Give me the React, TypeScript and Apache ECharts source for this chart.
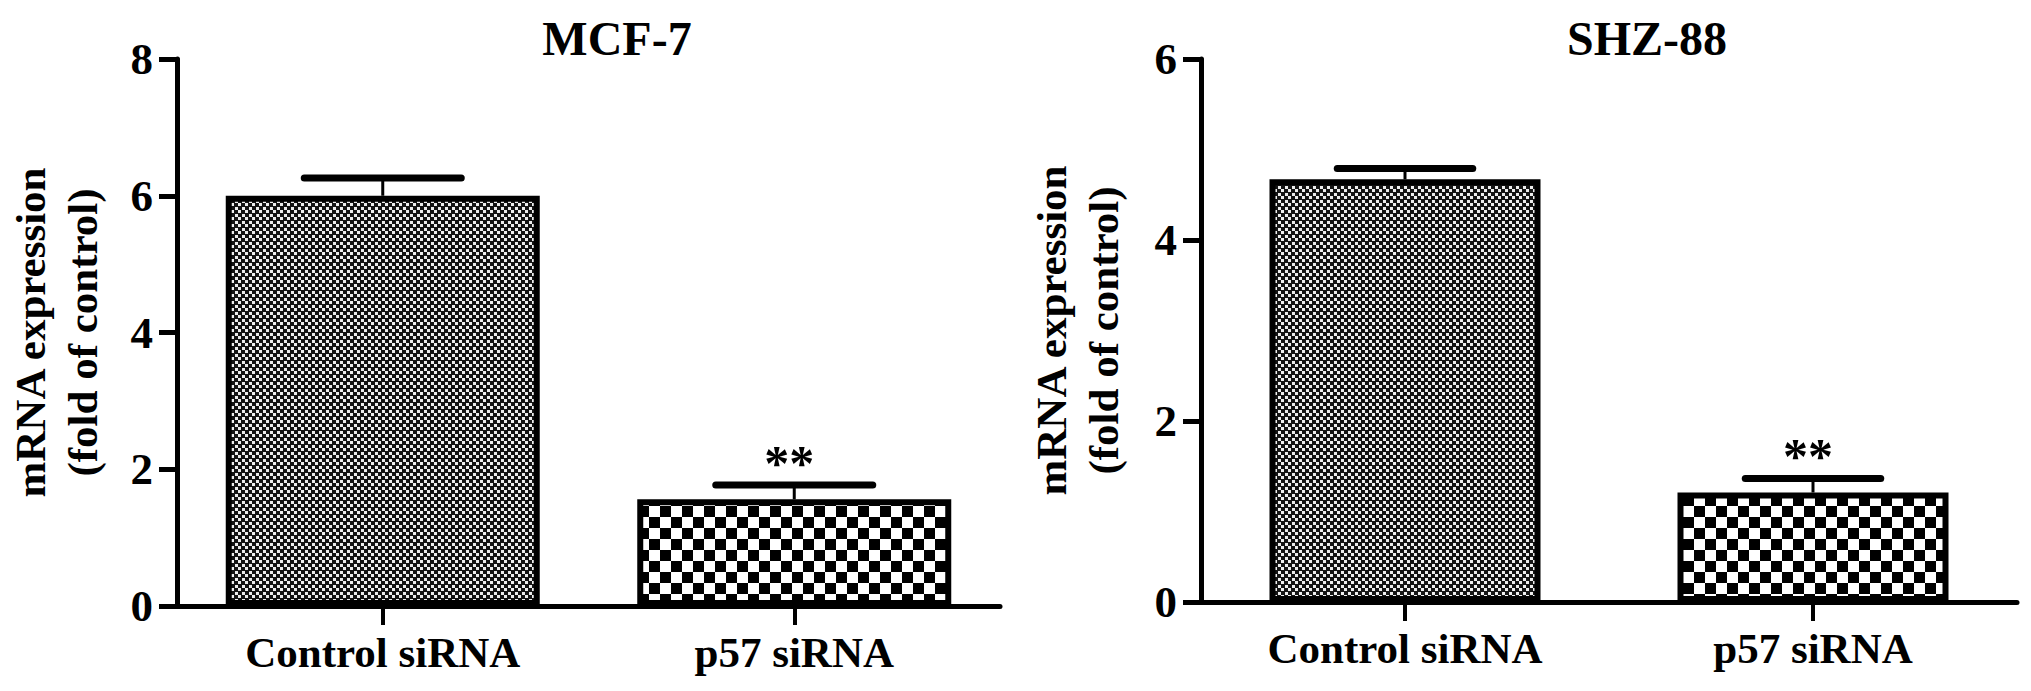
import React, { useEffect, useRef } from 'react';
import * as echarts from 'echarts';

// ---- data ----
const categories = ['Control siRNA', 'p57 siRNA'];
const panelTitles = ['MCF-7', 'SHZ-88'];
const mcf7Means = [6.0, 1.56];
const mcf7Errors = [0.26, 0.21];
const shz88Means = [4.67, 1.21];
const shz88Errors = [0.12, 0.155];
const significance = ['', '**'];
const mcf7AxisMax = 8;
const shz88AxisMax = 6;
const axisInterval = 2;
const yAxisTitle = 'mRNA expression\n(fold of control)';

const FONT = '"Liberation Serif", "Times New Roman", Times, serif';

function makeFinePattern(): HTMLCanvasElement {
  const c = document.createElement('canvas');
  c.width = 7;
  c.height = 7;
  const ctx = c.getContext('2d')!;
  ctx.fillStyle = '#151515';
  ctx.fillRect(0, 0, 7, 7);
  ctx.fillStyle = '#eeeeee';
  ctx.fillRect(0, 0, 3, 3);
  ctx.fillRect(4, 4, 3, 3);
  return c;
}

function makeCoarsePattern(): HTMLCanvasElement {
  const c = document.createElement('canvas');
  c.width = 22;
  c.height = 22;
  const ctx = c.getContext('2d')!;
  ctx.fillStyle = '#ffffff';
  ctx.fillRect(0, 0, 22, 22);
  ctx.fillStyle = '#000000';
  ctx.fillRect(0, 0, 11, 11);
  ctx.fillRect(11, 11, 11, 11);
  return c;
}

export default function App() {
  const ref = useRef<HTMLDivElement>(null);

  useEffect(() => {
    if (!ref.current) return;
    document.body.style.margin = '0';
    const chart = echarts.init(ref.current, null, { renderer: 'svg' });

    const fine = makeFinePattern();
    const coarse = makeCoarsePattern();
    const patterns = [
      { image: fine, repeat: 'repeat', imageWidth: 7, imageHeight: 7 },
      { image: coarse, repeat: 'repeat', imageWidth: 22, imageHeight: 22 },
    ];

    const panels = [
      { means: mcf7Means, errors: mcf7Errors, max: mcf7AxisMax, barWidth: 314, nameGap: 69 },
      { means: shz88Means, errors: shz88Errors, max: shz88AxisMax, barWidth: 271, nameGap: 72 },
    ];

    const grids = [
      { left: 177, top: 59, width: 823, height: 547 },
      { left: 1201, top: 59, width: 816, height: 543 },
    ];

    const xAxes = panels.map((_, gi) => ({
      type: 'category',
      gridIndex: gi,
      data: categories,
      boundaryGap: true,
      axisLine: { show: true, lineStyle: { color: '#000', width: 5 } },
      axisTick: { show: true, alignWithLabel: true, length: 19, lineStyle: { color: '#000', width: 4 } },
      axisLabel: {
        color: '#000',
        fontFamily: FONT,
        fontWeight: 'bold',
        fontSize: 43,
        margin: 25,
      },
    }));

    const yAxes = panels.map((p, gi) => ({
      type: 'value',
      gridIndex: gi,
      min: 0,
      max: p.max,
      interval: axisInterval,
      name: yAxisTitle,
      nameLocation: 'middle',
      nameRotate: 90,
      nameGap: p.nameGap,
      nameTextStyle: {
        color: '#000',
        fontFamily: FONT,
        fontWeight: 'bold',
        fontSize: 43,
        lineHeight: 52,
      },
      splitLine: { show: false },
      axisLine: { show: true, lineStyle: { color: '#000', width: 5 } },
      axisTick: { show: true, length: 18, lineStyle: { color: '#000', width: 5 } },
      axisLabel: {
        color: '#000',
        fontFamily: FONT,
        fontWeight: 'bold',
        fontSize: 45,
        margin: 24,
      },
    }));

    const series: any[] = [];
    panels.forEach((p, gi) => {
      series.push({
        type: 'bar',
        xAxisIndex: gi,
        yAxisIndex: gi,
        barWidth: p.barWidth,
        z: 2,
        data: p.means.map((v, i) => ({
          value: v,
          itemStyle: { color: patterns[i], borderColor: '#000', borderWidth: 6 },
        })),
      });
      const bw = p.barWidth;
      series.push({
        type: 'custom',
        xAxisIndex: gi,
        yAxisIndex: gi,
        z: 3,
        data: p.means.map((v, i) => [i, v, v + p.errors[i]]),
        renderItem: (params: any, api: any) => {
          const idx = api.value(0);
          const base = api.coord([idx, api.value(1)]);
          const top = api.coord([idx, api.value(2)]);
          const half = bw / 4;
          return {
            type: 'group',
            children: [
              {
                type: 'line',
                shape: { x1: base[0], y1: base[1], x2: top[0], y2: top[1] },
                style: { stroke: '#000', lineWidth: 3 },
              },
              {
                type: 'line',
                shape: { x1: top[0] - half, y1: top[1], x2: top[0] + half, y2: top[1] },
                style: { stroke: '#000', lineWidth: 7, lineCap: 'round' },
              },
              {
                type: 'text',
                x: top[0] - 5,
                y: top[1] - 22,
                style: {
                  text: significance[params.dataIndex],
                  fill: '#000',
                  font: `bold 50px ${FONT}`,
                  textAlign: 'center',
                  textVerticalAlign: 'middle',
                },
              },
            ],
          };
        },
      });
    });

    chart.setOption({
      animation: false,
      backgroundColor: '#fff',
      grid: grids,
      xAxis: xAxes,
      yAxis: yAxes,
      series,
      graphic: [
        {
          type: 'text',
          x: 617,
          y: 38,
          style: {
            text: panelTitles[0],
            fill: '#000',
            font: `bold 48px ${FONT}`,
            textAlign: 'center',
            textVerticalAlign: 'middle',
          },
        },
        {
          type: 'text',
          x: 1647,
          y: 38,
          style: {
            text: panelTitles[1],
            fill: '#000',
            font: `bold 48px ${FONT}`,
            textAlign: 'center',
            textVerticalAlign: 'middle',
          },
        },
      ],
    });

    return () => chart.dispose();
  }, []);

  return (
    <div
      ref={ref}
      style={{ position: 'absolute', left: 0, top: 0, width: 2031, height: 691, background: '#fff' }}
    />
  );
}
